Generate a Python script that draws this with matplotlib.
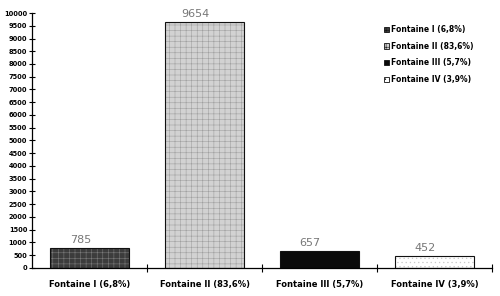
import matplotlib.pyplot as plt
from matplotlib.patches import Patch

categories = ["Fontaine I (6,8%)", "Fontaine II (83,6%)", "Fontaine III (5,7%)", "Fontaine IV (3,9%)"]
values = [785, 9654, 657, 452]
yticks = list(range(0, 10001, 500))

faces = ["#3c3c3c", "#d2d2d2", "#0a0a0a", "#ffffff"]
hatches = ["+++", "+++", "", "...."]
hatch_cols = ["#7a7a7a", "#a0a0a0", "#0a0a0a", "#c8c8c8"]

plt.rcParams["hatch.linewidth"] = 0.4
fig = plt.figure(figsize=(5, 2.96), dpi=100)
ax = fig.add_axes([0.064, 0.095, 0.92, 0.861])

x = list(range(len(values)))
bars = ax.bar(x, values, width=0.68, color=faces, edgecolor="#111111", linewidth=0.8)
for b, h, hc in zip(bars, hatches, hatch_cols):
    if h:
        b.set_hatch(h)
        b._hatch_color = plt.matplotlib.colors.to_rgba(hc)

for xi, v in zip(x, values):
    ax.text(xi - 0.08, v + 130, str(v), ha="center", va="bottom", fontsize=8, color="#777777")

ax.set_xlim(-0.5, 3.5)
ax.set_ylim(0, 10000)
ax.set_yticks(yticks)
ax.set_yticklabels([str(t) for t in yticks], fontsize=4.8, fontweight="bold")
ax.tick_params(axis="y", direction="inout", length=5, width=0.8, pad=1)
ax.set_xticks(x)
ax.set_xticklabels(categories, fontsize=6, fontweight="bold")
ax.tick_params(axis="x", which="major", length=0, pad=9)
ax.set_xticks([0.5, 1.5, 2.5, 3.5], minor=True)
ax.tick_params(axis="x", which="minor", direction="inout", length=6, width=0.8)
for s in ["top", "right"]:
    ax.spines[s].set_visible(False)
for s in ["left", "bottom"]:
    ax.spines[s].set_linewidth(0.9)

handles = [Patch(facecolor=f, edgecolor="#111111", hatch=h, linewidth=0.6) for f, h in zip(faces, hatches)]
ax.legend(handles, categories, loc="upper left", bbox_to_anchor=(0.75, 0.98), frameon=False,
          prop={"weight": "bold", "size": 5.5}, handlelength=0.7, handleheight=0.7,
          handletextpad=0.2, labelspacing=1.0)

fig.savefig("out.png", dpi=100)
